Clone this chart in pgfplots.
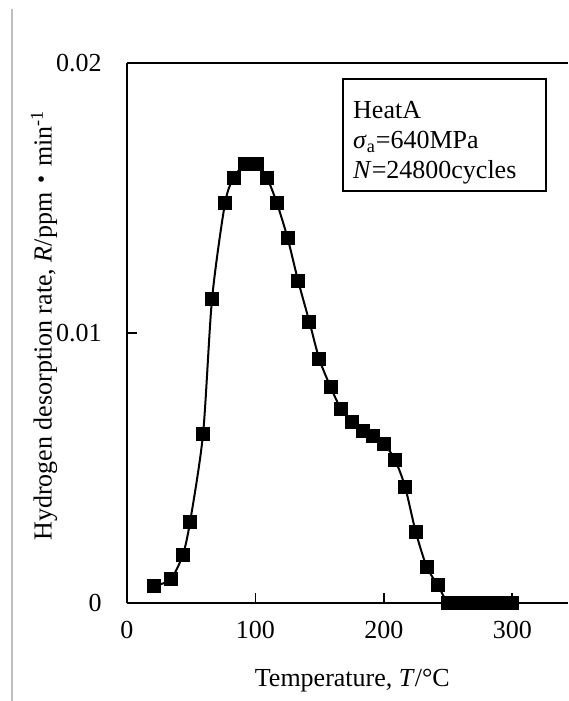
\documentclass[border=0pt]{standalone}
\usepackage{fontspec}
\setmainfont{Liberation Serif}
\newfontfamily\cjk{Noto Sans CJK JP}
\usepackage{pgfplots}
\pgfplotsset{compat=1.18}
\begin{document}
\begin{tikzpicture}[font=\fontsize{13}{15}\selectfont]
\useasboundingbox (-63.5pt,-49pt) rectangle (220.5pt,301.5pt);
\draw[black!25, line width=0.6pt] (-57.5pt,297pt) -- (-57.5pt,-49pt);
\begin{axis}[
  at={(0pt,0pt)}, anchor=south west,
  scale only axis, width=220.5pt, height=270pt,
  xmin=0, xmax=343.4, ymin=0, ymax=0.02,
  scaled y ticks=false, scaled x ticks=false,
  axis lines*=left, axis line style={-, line width=1.2pt},
  tick align=inside, major tick length=5pt,
  tick style={line width=0.8pt, black},
  xtick={0,100,200,300}, xticklabels={0,100,200,300},
  ytick={0,0.01,0.02}, yticklabels={0,0.01,0.02},
  xticklabel style={anchor=north, inner sep=0pt, yshift=-9pt},
  yticklabel style={anchor=east, inner sep=0pt, xshift=-12.5pt},
  xlabel={Temperature, \textit{T}/°C},
  xlabel style={at={(axis description cs:0.511,0)}, anchor=north, inner sep=0pt, yshift=-33pt},
  ylabel={Hydrogen desorption rate, \textit{R}/ppm{\cjk ・}min\textsuperscript{-1}},
  ylabel style={at={(axis description cs:0,0.514)}, anchor=center, inner sep=0pt, rotate=0, yshift=41.5pt},
  clip=false,
]
\draw[line width=1.2pt] (rel axis cs:0,1) -- (rel axis cs:1,1);
\addplot[black, line width=1pt, smooth, tension=0.45, mark=square*, mark size=3pt, mark options={solid, fill=black}] coordinates {
(21.3,0.00063) (34.0,0.00088) (43.4,0.00177) (49.1,0.0030) (59.2,0.00625)
(66.2,0.01125) (76.3,0.0148) (83.1,0.01575) (91.9,0.01626) (101.0,0.01626)
(109.0,0.01575) (116.8,0.0148) (125.1,0.01351) (133.2,0.01194) (142.0,0.01042)
(149.7,0.00904) (158.6,0.00799) (166.6,0.00719) (174.9,0.00671) (183.5,0.00638)
(191.8,0.00619) (200.1,0.00590) (208.7,0.0053) (216.5,0.00431) (224.8,0.00264)
(233.4,0.00134) (241.9,0.00067) (250,0) (258.3,0) (266.7,0) (275,0) (283.3,0) (291.7,0) (300,0)
};
\end{axis}
\draw[line width=1pt] (108.2pt,206.2pt) rectangle (209.5pt,261.9pt);
\node[anchor=north west, inner sep=0pt, align=left, font=\fontsize{13}{15}\selectfont] at (112.9pt,250.8pt)
  {HeatA\\ \textit{σ}\textsubscript{a}=640MPa\\ \textit{N}=24800cycles};
\end{tikzpicture}
\end{document}
